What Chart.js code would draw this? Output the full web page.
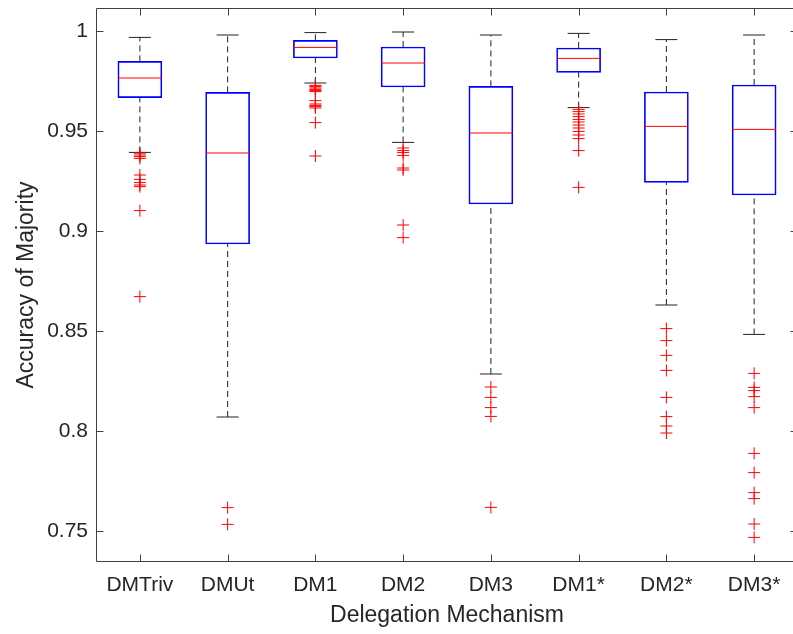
<!DOCTYPE html>
<html><head><meta charset="utf-8">
<script src="https://cdn.jsdelivr.net/npm/chart.js@4.4.0/dist/chart.umd.min.js"></script>
<style>html,body{margin:0;padding:0;overflow:hidden;background:#fff}
#wrap{position:relative;width:806px;height:634px}</style></head>
<body><div id="wrap"><canvas id="c" width="806" height="634"></canvas></div>
<script>
const categories = ['DMTriv','DMUt','DM1','DM2','DM3','DM1*','DM2*','DM3*'];
const upperWhisker = [0.9968, 0.998, 0.9992, 0.9995, 0.998, 0.9988, 0.9957, 0.998];
const q3           = [0.9848, 0.9693, 0.9953, 0.992, 0.9723, 0.9915, 0.9695, 0.973];
const median       = [0.9765, 0.939, 0.9918, 0.984, 0.949, 0.9863, 0.9523, 0.9508];
const q1           = [0.9667, 0.8935, 0.9865, 0.972, 0.9135, 0.9793, 0.9243, 0.918];
const lowerWhisker = [0.9393, 0.807, 0.974, 0.9443, 0.8285, 0.9617, 0.863, 0.8483];
const outliersDMTriv = [0.9389, 0.938, 0.9372, 0.9363, 0.928, 0.9258, 0.9242, 0.923, 0.9222, 0.9102, 0.8672];
const outliersDMUt   = [0.7617, 0.7533];
const outliersDM1    = [0.9728, 0.9722, 0.9715, 0.9708, 0.9702, 0.9697, 0.9652, 0.9635, 0.9628, 0.9622, 0.9615, 0.9542, 0.9375];
const outliersDM2    = [0.9415, 0.9402, 0.9392, 0.9378, 0.9315, 0.9305, 0.903, 0.8967];
const outliersDM3    = [0.822, 0.8168, 0.8117, 0.8073, 0.7618];
const outliersDM1s   = [0.9608, 0.9597, 0.9585, 0.9572, 0.9558, 0.9545, 0.953, 0.9515, 0.9498, 0.948, 0.9462, 0.9402, 0.9218];
const outliersDM2s   = [0.8512, 0.8452, 0.8378, 0.8303, 0.8168, 0.8072, 0.8025, 0.799];
const outliersDM3s   = [0.8288, 0.8218, 0.8202, 0.8172, 0.8117, 0.7888, 0.7792, 0.7692, 0.7662, 0.7535, 0.7468];
const outliers = [outliersDMTriv, outliersDMUt, outliersDM1, outliersDM2, outliersDM3, outliersDM1s, outliersDM2s, outliersDM3s];
const yTicks = [0.75, 0.8, 0.85, 0.9, 0.95, 1];
const yMin = 0.7345, yMax = 1.0115;

const axisColor = '#404040';
const textColor = '#262626';
const boxColor = '#0000ff';
const redColor = '#ff0000';
const whiskerColor = '#222222';
const FONT = "'Liberation Sans', Arial, Helvetica, sans-serif";

const datasets = [];
datasets.push({
  type: 'scatter',
  data: outliers.flatMap((arr, i) => arr.map(v => ({x: categories[i], y: v}))),
  pointStyle: 'cross', pointRadius: 6, borderColor: redColor, borderWidth: 1,
  backgroundColor: redColor
});
datasets.push({
  type: 'scatter',
  data: median.map((v, i) => ({x: categories[i], y: v})),
  pointStyle: 'line', pointRadius: 22, borderColor: redColor, borderWidth: 1
});
datasets.push({
  type: 'scatter',
  data: upperWhisker.map((v, i) => ({x: categories[i], y: v}))
        .concat(lowerWhisker.map((v, i) => ({x: categories[i], y: v}))),
  pointStyle: 'line', pointRadius: 11, borderColor: whiskerColor, borderWidth: 1
});
datasets.push({
  type: 'bar',
  data: q1.map((v, i) => [v, q3[i]]),
  backgroundColor: 'rgba(0,0,0,0)', borderColor: boxColor, borderWidth: 1,
  borderSkipped: false, barThickness: 44
});
categories.forEach((c, i) => {
  datasets.push({
    type: 'line',
    data: [{x: c, y: q3[i]}, {x: c, y: upperWhisker[i]}],
    borderColor: whiskerColor, borderWidth: 1, borderDash: [6, 4], pointRadius: 0, fill: false
  });
  datasets.push({
    type: 'line',
    data: [{x: c, y: lowerWhisker[i]}, {x: c, y: q1[i]}],
    borderColor: whiskerColor, borderWidth: 1, borderDash: [6, 4], pointRadius: 0, fill: false
  });
});

const framePlugin = {
  id: 'frame',
  afterDatasetsDraw(chart) {
    const {ctx, chartArea: a, scales: {x, y}} = chart;
    ctx.save();
    ctx.strokeStyle = axisColor; ctx.lineWidth = 1; ctx.setLineDash([]);
    const L = Math.round(a.left) + 0.5, R = Math.round(a.right) - 0.5;
    const T = Math.round(a.top) + 0.5, B = Math.round(a.bottom) - 0.5;
    ctx.beginPath();
    ctx.rect(L, T, R - L, B - T);
    y.ticks.forEach((t, i) => {
      const py = Math.round(y.getPixelForTick(i)) + 0.5;
      ctx.moveTo(L, py); ctx.lineTo(L + 7, py);
      ctx.moveTo(R, py); ctx.lineTo(R - 7, py);
    });
    x.ticks.forEach((t, i) => {
      const px = Math.round(x.getPixelForTick(i)) + 0.5;
      ctx.moveTo(px, B); ctx.lineTo(px, B - 7);
      ctx.moveTo(px, T); ctx.lineTo(px, T + 7);
    });
    ctx.stroke();
    ctx.restore();
  }
};

function noPad(s) { s.paddingTop = 0; s.paddingBottom = 0; s.paddingLeft = 0; s.paddingRight = 0; }

new Chart(document.getElementById('c'), {
  type: 'bar',
  data: {labels: categories, datasets},
  plugins: [framePlugin],
  options: {
    responsive: false,
    animation: false,
    layout: {autoPadding: false, padding: {left: 0, right: 8, top: 8, bottom: 0}},
    plugins: {legend: {display: false}, tooltip: {enabled: false}, title: {display: false}},
    scales: {
      x: {
        type: 'category', offset: true,
        grid: {display: false, drawTicks: false},
        border: {display: false},
        ticks: {color: textColor, font: {family: FONT, size: 21}, padding: 11, maxRotation: 0, autoSkip: false},
        title: {display: true, text: 'Delegation Mechanism', color: textColor,
                font: {family: FONT, size: 23}, padding: {top: 0, bottom: 5}},
        afterFit(s) { s.height = 72; noPad(s); }
      },
      y: {
        type: 'linear', min: yMin, max: yMax,
        grid: {display: false, drawTicks: false},
        border: {display: false},
        afterBuildTicks(s) { s.ticks = yTicks.map(v => ({value: v})); },
        ticks: {color: textColor, font: {family: FONT, size: 21}, padding: 8, autoSkip: false,
                callback: v => String(+v.toFixed(2))},
        title: {display: true, text: 'Accuracy of Majority', color: textColor,
                font: {family: FONT, size: 23}, padding: {top: 13, bottom: 0}},
        afterFit(s) { s.width = 96; noPad(s); }
      }
    }
  }
});
</script></body></html>
